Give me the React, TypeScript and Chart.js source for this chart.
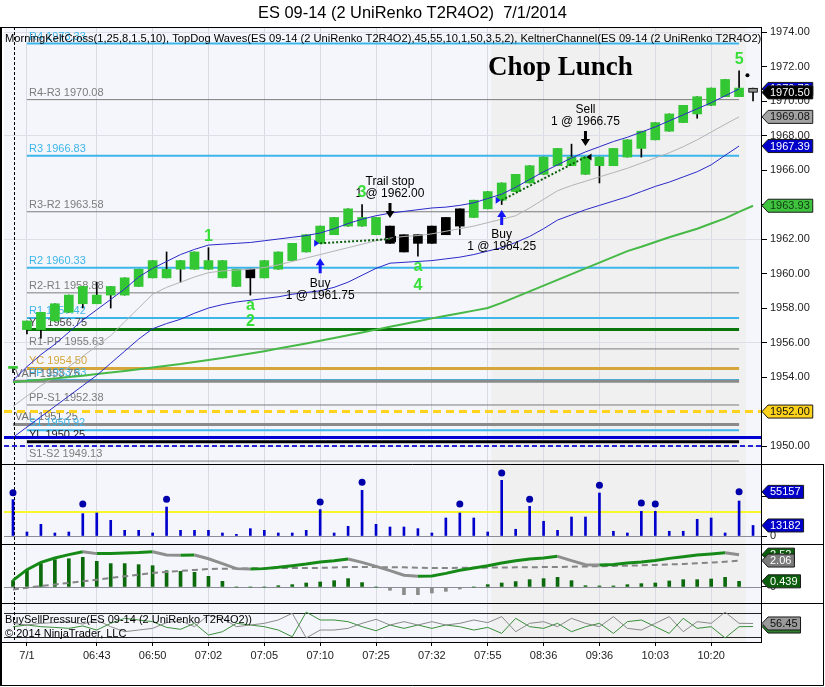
import React, { useEffect, useRef } from 'react';
import { Chart, registerables } from 'chart.js';

Chart.register(...registerables);

const FONT = "'Liberation Sans', Arial, Helvetica, sans-serif";
const SERIF = "'Liberation Serif', 'Times New Roman', serif";

const TITLE = 'ES 09-14 (2 UniRenko T2R4O2)  7/1/2014';
const PRICE_PANEL_LABEL =
  'MorningKeltCross(1,25,8,1.5,10), TopDog Waves(ES 09-14 (2 UniRenko T2R4O2),45,55,10,1,50,3,5,2), KeltnerChannel(ES 09-14 (2 UniRenko T2R4O2),1.5,10)';
const BSP_PANEL_LABEL = 'BuySellPressure(ES 09-14 (2 UniRenko T2R4O2))';
const COPYRIGHT = '\u00A9 2014 NinjaTrader, LLC';
const NOTE_TEXT = 'Chop Lunch';

// ---- axis ticks ----
const xTickBars = [1, 6, 10, 14, 18, 22, 26, 30, 34, 38, 42, 46, 50];
const xTickLabels = ['7/1', '06:43', '06:50', '07:02', '07:05', '07:10', '07:25', '07:32', '07:55', '08:36', '09:36', '10:03', '10:20'];
const priceTicks = [1950, 1952, 1954, 1956, 1958, 1960, 1962, 1964, 1966, 1968, 1970, 1972, 1974];
const volumeTicks = [0, 50000];
const oscTicks = [0, 2.5];

// ---- bricks (UniRenko) ----
const barOpen = [1954.5, 1956.75, 1956.75, 1957.25, 1957.75, 1958.25, 1958.75, 1958.75, 1958.75, 1959.25,
  1959.75, 1960.25, 1960.25, 1960.25, 1960.75, 1960.75, 1960.25, 1959.75, 1959.75, 1960.25,
  1960.75, 1961.25, 1961.75, 1962.25, 1962.75, 1963.25, 1963.25, 1962.75, 1962.25, 1961.75,
  1961.75, 1962.25, 1962.75, 1963.25, 1963.75, 1964.25, 1964.75, 1965.25, 1965.75, 1966.25,
  1966.75, 1966.75, 1966.25, 1966.25, 1966.75, 1967.25, 1967.75, 1968.25, 1968.75, 1969.25,
  1969.75, 1970.25, 1970.75, 1970.75];
const barHigh = [1954.5, 1957.25, 1957.75, 1958.25, 1958.75, 1959.25, 1959.5, 1959.25, 1959.75, 1960.25,
  1960.75, 1961.25, 1960.75, 1961.25, 1961.5, 1960.75, 1960.25, 1960.25, 1960.75, 1961.25,
  1961.75, 1962.25, 1962.75, 1963.25, 1963.75, 1964.0, 1963.25, 1962.75, 1962.25, 1962.25,
  1962.75, 1963.25, 1963.75, 1964.25, 1964.75, 1965.25, 1965.75, 1966.25, 1966.75, 1967.25,
  1967.5, 1966.75, 1966.75, 1967.25, 1967.75, 1968.25, 1968.75, 1969.25, 1969.75, 1970.25,
  1970.75, 1971.25, 1971.75, 1970.75];
const barLow = [1954.25, 1956.5, 1956.25, 1957.25, 1957.75, 1958.0, 1958.25, 1958.0, 1958.75, 1959.25,
  1959.75, 1959.75, 1959.5, 1960.25, 1960.25, 1959.75, 1959.25, 1958.75, 1959.75, 1960.25,
  1960.75, 1961.25, 1961.75, 1962.25, 1962.75, 1962.75, 1962.25, 1961.75, 1961.25, 1961.0,
  1961.75, 1962.25, 1962.25, 1963.25, 1963.75, 1964.0, 1964.75, 1965.25, 1965.75, 1966.25,
  1966.25, 1965.75, 1965.25, 1966.25, 1966.75, 1966.75, 1967.75, 1968.25, 1968.75, 1969.0,
  1969.75, 1970.25, 1970.25, 1970.0];
const barClose = [1954.5, 1957.25, 1957.75, 1958.25, 1958.75, 1959.25, 1958.25, 1959.25, 1959.75, 1960.25,
  1960.75, 1959.75, 1960.75, 1961.25, 1960.25, 1959.75, 1959.25, 1960.25, 1960.75, 1961.25,
  1961.75, 1962.25, 1962.75, 1963.25, 1963.75, 1962.75, 1962.25, 1961.75, 1961.25, 1962.25,
  1962.75, 1963.25, 1963.75, 1964.25, 1964.75, 1965.25, 1965.75, 1966.25, 1966.75, 1967.25,
  1966.25, 1965.75, 1966.75, 1967.25, 1967.75, 1968.25, 1968.75, 1969.25, 1969.75, 1970.25,
  1970.75, 1971.25, 1970.25, 1970.5];
// G = trend-painted green, B = black (counter-trend), L = live brick
const barTrend = ['G', 'G', 'G', 'G', 'G', 'G', 'G', 'G', 'G', 'G',
  'G', 'G', 'G', 'G', 'G', 'G', 'G', 'B', 'G', 'G',
  'G', 'G', 'G', 'G', 'G', 'G', 'G', 'B', 'B', 'B',
  'B', 'B', 'B', 'G', 'G', 'G', 'G', 'G', 'G', 'G',
  'G', 'G', 'G', 'G', 'G', 'G', 'G', 'G', 'G', 'G',
  'G', 'G', 'G', 'L'];

// ---- price-panel indicators ----
const kcUpper = [1953.8, 1954.6, 1955.3, 1955.9, 1956.6, 1957.3, 1957.9, 1958.5, 1959.1, 1959.8,
  1960.3, 1960.7, 1961.1, 1961.4, 1961.65, 1961.7, 1961.75, 1961.8, 1961.9, 1962.0,
  1962.1, 1962.2, 1962.35, 1962.6, 1962.9, 1963.15, 1963.35, 1963.5, 1963.6, 1963.7,
  1963.8, 1963.85, 1963.95, 1964.1, 1964.35, 1964.6, 1965.0, 1965.45, 1965.9, 1966.3,
  1966.7, 1967.05, 1967.35, 1967.65, 1967.9, 1968.2, 1968.5, 1968.85, 1969.2, 1969.55,
  1969.9, 1970.3, 1970.7, null];
const kcMid = [1952.3, 1952.9, 1953.5, 1954.0, 1954.6, 1955.2, 1955.8, 1956.4, 1957.2, 1958.0,
  1958.8, 1959.2, 1959.5, 1959.8, 1960.05, 1960.15, 1960.2, 1960.25, 1960.35, 1960.5,
  1960.7, 1960.9, 1961.1, 1961.3, 1961.5, 1961.7, 1961.9, 1962.05, 1962.15, 1962.2,
  1962.3, 1962.45, 1962.6, 1962.75, 1962.95, 1963.15, 1963.35, 1963.8, 1964.3, 1964.8,
  1965.1, 1965.35, 1965.6, 1965.85, 1966.1, 1966.4, 1966.7, 1967.0, 1967.35, 1967.75,
  1968.2, 1968.65, 1969.08, null];
const kcLower = [1950.5, 1951.1, 1951.7, 1952.3, 1952.9, 1953.5, 1954.1, 1954.8, 1955.5, 1956.2,
  1956.8, 1957.1, 1957.35, 1957.7, 1958.0, 1958.2, 1958.35, 1958.45, 1958.55, 1958.65,
  1958.8, 1958.9, 1959.0, 1959.2, 1959.5, 1959.9, 1960.3, 1960.6, 1960.65, 1960.7,
  1960.75, 1960.85, 1960.95, 1961.1, 1961.3, 1961.5, 1961.8, 1962.15, 1962.6, 1963.1,
  1963.4, 1963.7, 1963.95, 1964.2, 1964.45, 1964.75, 1965.05, 1965.3, 1965.6, 1965.9,
  1966.3, 1966.85, 1967.39, null];
const trendMA = [1953.7, 1953.77, 1953.85, 1953.92, 1954.0, 1954.08, 1954.17, 1954.26, 1954.35, 1954.45,
  1954.55, 1954.65, 1954.75, 1954.87, 1954.99, 1955.1, 1955.23, 1955.36, 1955.5, 1955.65,
  1955.8, 1955.95, 1956.1, 1956.26, 1956.42, 1956.58, 1956.75, 1956.91, 1957.07, 1957.23,
  1957.4, 1957.55, 1957.7, 1957.85, 1958.0, 1958.3, 1958.63, 1958.97, 1959.3, 1959.63,
  1959.97, 1960.3, 1960.63, 1960.97, 1961.3, 1961.55, 1961.83, 1962.1, 1962.35, 1962.6,
  1962.9, 1963.2, 1963.57, 1963.93];

// ---- pivot / value-area levels ----
const levelNames = ['R4', 'R4-R3', 'R3', 'R3-R2', 'R2', 'R2-R1', 'R1', 'YH', 'R1-PP', 'YC', 'PP', 'VAH', 'PP-S1', 'VAL', 'S1', 'YL', 'S1-S2'];
const levelValues = [1973.33, 1970.08, 1966.83, 1963.58, 1960.33, 1958.88, 1957.42, 1956.75, 1955.63, 1954.5, 1953.83, 1953.75, 1952.38, 1951.25, 1950.92, 1950.25, 1949.13];
const levelKinds = ['pivot', 'mid', 'pivot', 'mid', 'pivot', 'mid', 'pivot', 'yh', 'mid', 'yc', 'pivot', 'va', 'mid', 'va', 'pivot', 'yl', 'mid'];
const extraLineValues = [1952.0, 1950.5, 1950.0];
const extraLineKinds = ['target', 'low', 'stop'];

// ---- trades ----
const tradeBars = [22, 27, 35, 41];
const tradeActions = ['Buy', 'Trail stop', 'Buy', 'Sell'];
const tradeQty = [1, 1, 1, 1];
const tradePrices = [1961.75, 1962.0, 1964.25, 1966.75];
const tradeArrowTips = [1960.88, 1963.22, 1963.68, 1967.39];
const tradeLinks = [[0, 1], [2, 3]];

// ---- wave labels ----
const waveBars = [14, 17, 17, 25, 29, 29, 52];
const waveTexts = ['1', 'a', '2', '3', 'a', '4', '5'];
const wavePrices = [1962.17, 1958.17, 1957.19, 1964.67, 1960.38, 1959.33, 1972.38];

const noteBar = 39.2;
const notePrice = 1971.9;
const markDotBar = [52.6];
const markDotPrice = [1971.5];
const sessionBreakBar = 0.05;
const shadeBars = [34.25, 52.5];

// ---- volume panel ----
const volume = [45500, 5000, 14600, 3750, 5000, 27900, 28750, 19600, 7100, 7100,
  3750, 36250, 7100, 7100, 7100, 3750, 2100, 9200, 7100, 3750,
  3750, 7100, 33000, 3750, 12100, 57100, 14600, 11250, 11250, 9200,
  3750, 22500, 28750, 22500, 5000, 69600, 8400, 37100, 18400, 7100,
  23750, 23750, 53750, 5900, 3750, 30800, 30800, 5900, 5900, 20900,
  22500, 3750, 43750, 13182];
const volumeSpikes = [54000, null, null, null, null, 40000, null, null, null, null,
  null, 45900, null, null, null, null, null, null, null, null,
  null, null, 42500, null, null, 67100, null, null, null, null,
  null, null, 40000, null, null, 78750, null, 45900, null, null,
  null, null, 63400, null, null, 41250, 40000, null, null, null,
  null, null, 55157, null];
const volumeAlertLevel = 30000;

// ---- oscillator panel ----
const oscLine = [0.51, 1.35, 1.92, 2.26, 2.52, 2.75, 2.6, 2.6, 2.65, 2.68,
  2.75, 2.49, 2.47, 2.49, 2.2, 1.82, 1.43, 1.4, 1.43, 1.53,
  1.66, 1.79, 1.95, 2.05, 2.18, 1.92, 1.61, 1.27, 0.92, 0.84,
  0.86, 1.06, 1.3, 1.48, 1.66, 1.87, 2.05, 2.18, 2.26, 2.39,
  2.05, 1.74, 1.71, 1.76, 1.87, 1.95, 2.07, 2.23, 2.36, 2.49,
  2.57, 2.67, 2.52, null];
const oscSignal = [-0.2, -0.06, 0.07, 0.2, 0.32, 0.44, 0.57, 0.7, 0.83, 0.96,
  1.09, 1.17, 1.25, 1.33, 1.4, 1.42, 1.44, 1.45, 1.46, 1.47,
  1.48, 1.48, 1.49, 1.52, 1.55, 1.56, 1.55, 1.54, 1.53, 1.5,
  1.48, 1.48, 1.49, 1.5, 1.51, 1.52, 1.53, 1.54, 1.55, 1.56,
  1.58, 1.6, 1.62, 1.64, 1.66, 1.69, 1.72, 1.76, 1.79, 1.84,
  1.9, 1.97, 2.06, null];
const oscHist = [0.5, 1.35, 1.82, 2.13, 2.2, 2.31, 2.0, 1.82, 1.82, 1.74,
  1.66, 1.27, 1.22, 1.14, 0.83, 0.44, 0, 0, 0, 0.1,
  0.18, 0.31, 0.39, 0.49, 0.65, 0.34, 0, -0.26, -0.6, -0.6,
  -0.47, -0.34, -0.16, 0, 0.18, 0.31, 0.42, 0.57, 0.65, 0.75,
  0.49, 0.1, 0.08, 0.08, 0.18, 0.26, 0.31, 0.47, 0.57, 0.57,
  0.62, 0.75, 0.439, null];

// ---- buy/sell pressure panel ----
const bspSell = [57, 50, 57, 60, 64, 54, 71, 43, 22, 29,
  36, 60, 68, 43, 92, 78, 43, 50, 57, 71,
  99, -4, 29, 29, 36, 57, 74, 50, 64, 50,
  64, 50, 57, 71, 60, 85, 22, 57, 64, 43,
  78, 57, 43, 85, 36, 29, 57, 85, 22, 64,
  57, 104, 57, 56.45];
const bspBuy = [43, 50, 43, 40, 36, 46, 29, 57, 78, 71,
  64, 40, 32, 57, 8, 22, 57, 50, 43, 29,
  1, 104, 71, 71, 64, 43, 26, 50, 36, 50,
  36, 50, 43, 29, 40, 15, 78, 43, 36, 57,
  22, 43, 57, 15, 64, 71, 43, 15, 78, 36,
  43, -4, 43, 43.55];
const bspBounds = [0, 100];

// ---- styles ----
const PANEL_BG = '#f5f6fb';
const SHADE_BG = '#f0f0f1';
const BRICK_COLORS: Record<string, string> = { G: '#34c734', B: '#000000', L: '#8f8f8f' };
const LEVEL_STYLE: Record<string, any> = {
  pivot: { color: '#3cb6ea', width: 2, text: '#3cb6ea', from: 1 },
  mid: { color: '#7c7c7c', width: 1, text: '#7c7c7c', from: 1 },
  yh: { color: '#0a760a', width: 3, text: '#4a4a4a', from: 1 },
  yc: { color: '#d6a63a', width: 3, text: '#d6a63a', from: 1 },
  va: { color: '#8a8a8a', width: 3, text: '#6e6e6e', from: 0 },
  yl: { color: '#000000', width: 3, text: '#222222', from: 1 },
};
const LEVEL_END_BAR = 52;
const EXTRA_STYLE: Record<string, any> = {
  target: { color: '#ffd21c', width: 3, dash: [8, 5] },
  low: { color: '#0000d2', width: 3, dash: [] },
  stop: { color: '#2424d4', width: 2, dash: [5, 3] },
};
const OSC_UP = '#168a16';
const OSC_DOWN = '#8e8e8e';
const WAVE_COLOR = '#38df38';

const toXY = (arr: (number | null)[]) => arr.map((v, i) => ({ x: i, y: v }));

function drawFlag(ctx: CanvasRenderingContext2D, x0: number, y: number, text: string, bg: string, fg: string) {
  ctx.font = `11px ${FONT}`;
  const tw = ctx.measureText(text).width;
  const h = 13;
  const a = 6;
  const w = tw + 5;
  ctx.beginPath();
  ctx.moveTo(x0, y);
  ctx.lineTo(x0 + a, y - h / 2);
  ctx.lineTo(x0 + a + w, y - h / 2);
  ctx.lineTo(x0 + a + w, y + h / 2);
  ctx.lineTo(x0 + a, y + h / 2);
  ctx.closePath();
  ctx.fillStyle = bg;
  ctx.fill();
  ctx.strokeStyle = '#1a1a1a';
  ctx.lineWidth = 1;
  ctx.setLineDash([]);
  ctx.stroke();
  ctx.fillStyle = fg;
  ctx.textAlign = 'left';
  ctx.textBaseline = 'middle';
  ctx.fillText(text, x0 + a + 2, y + 0.5);
}

function drawArrow(ctx: CanvasRenderingContext2D, x: number, tipY: number, up: boolean, color: string) {
  const len = 15, hh = 7, hw = 4.5, sw = 1.5;
  const s = up ? 1 : -1;
  ctx.beginPath();
  ctx.moveTo(x, tipY);
  ctx.lineTo(x + hw, tipY + s * hh);
  ctx.lineTo(x + sw, tipY + s * hh);
  ctx.lineTo(x + sw, tipY + s * len);
  ctx.lineTo(x - sw, tipY + s * len);
  ctx.lineTo(x - sw, tipY + s * hh);
  ctx.lineTo(x - hw, tipY + s * hh);
  ctx.closePath();
  ctx.fillStyle = color;
  ctx.fill();
}

const decorPlugin = {
  id: 'ntDecor',
  beforeDraw(chart: any) {
    const { ctx, chartArea: ca } = chart;
    const xs = chart.scales.x;
    ctx.save();
    ctx.fillStyle = '#ffffff';
    ctx.fillRect(0, 0, chart.width, chart.height);
    ctx.fillStyle = PANEL_BG;
    ctx.fillRect(ca.left, ca.top, ca.right - ca.left, ca.bottom - ca.top);
    const s0 = xs.getPixelForValue(shadeBars[0]);
    const s1 = xs.getPixelForValue(shadeBars[1]);
    ctx.fillStyle = SHADE_BG;
    ctx.fillRect(s0, ca.top, s1 - s0, ca.bottom - ca.top);
    ctx.fillStyle = '#000';
    ctx.font = `16.4px ${FONT}`;
    ctx.textAlign = 'center';
    ctx.textBaseline = 'middle';
    ctx.fillText(TITLE, chart.width / 2, 13);
    ctx.restore();
  },
  beforeDatasetsDraw(chart: any) {
    const { ctx, chartArea: ca } = chart;
    const xs = chart.scales.x, yP = chart.scales.yP, yV = chart.scales.yV, yO = chart.scales.yO, yB = chart.scales.yB;
    ctx.save();
    // pivot levels
    levelValues.forEach((v, i) => {
      const st = LEVEL_STYLE[levelKinds[i]];
      const xa = xs.getPixelForValue(st.from);
      const xb = xs.getPixelForValue(LEVEL_END_BAR);
      const y = yP.getPixelForValue(v);
      ctx.strokeStyle = st.color;
      ctx.lineWidth = st.width;
      ctx.setLineDash([]);
      ctx.beginPath();
      ctx.moveTo(xa, y);
      ctx.lineTo(xb, y);
      ctx.stroke();
      ctx.fillStyle = st.text;
      ctx.font = `11px ${FONT}`;
      ctx.textAlign = 'left';
      ctx.textBaseline = 'alphabetic';
      ctx.fillText(`${levelNames[i]} ${v.toFixed(2)}`, xa + 2, y - 4);
    });
    // full-width lines
    extraLineValues.forEach((v, i) => {
      const st = EXTRA_STYLE[extraLineKinds[i]];
      const y = yP.getPixelForValue(v);
      ctx.strokeStyle = st.color;
      ctx.lineWidth = st.width;
      ctx.setLineDash(st.dash);
      ctx.beginPath();
      ctx.moveTo(ca.left, y);
      ctx.lineTo(ca.right, y);
      ctx.stroke();
    });
    ctx.setLineDash([]);
    // volume baseline + alert line
    let y = Math.round(yV.getPixelForValue(0)) + 0.5;
    ctx.strokeStyle = '#8c8c9a';
    ctx.lineWidth = 1;
    ctx.beginPath(); ctx.moveTo(ca.left, y); ctx.lineTo(ca.right, y); ctx.stroke();
    y = yV.getPixelForValue(volumeAlertLevel);
    ctx.strokeStyle = '#f7f72a';
    ctx.lineWidth = 2;
    ctx.beginPath(); ctx.moveTo(ca.left, y); ctx.lineTo(ca.right, y); ctx.stroke();
    // oscillator zero
    y = Math.round(yO.getPixelForValue(0)) + 0.5;
    ctx.strokeStyle = '#8c8c9a';
    ctx.lineWidth = 1;
    ctx.beginPath(); ctx.moveTo(ca.left, y); ctx.lineTo(ca.right, y); ctx.stroke();
    // bsp bounds
    ctx.strokeStyle = '#222';
    bspBounds.forEach((b) => {
      const yy = Math.round(yB.getPixelForValue(b)) + 0.5;
      ctx.beginPath(); ctx.moveTo(ca.left, yy); ctx.lineTo(ca.right, yy); ctx.stroke();
    });
    // session break
    const sx = Math.round(xs.getPixelForValue(sessionBreakBar)) + 0.5;
    ctx.strokeStyle = '#000';
    ctx.setLineDash([3, 2]);
    ctx.beginPath(); ctx.moveTo(sx, ca.top); ctx.lineTo(sx, ca.bottom); ctx.stroke();
    ctx.setLineDash([]);
    ctx.restore();
  },
  afterDatasetsDraw(chart: any) {
    const { ctx, chartArea: ca } = chart;
    const xs = chart.scales.x, yP = chart.scales.yP, yB = chart.scales.yB;
    ctx.save();
    // trade links
    tradeLinks.forEach(([a, b]) => {
      ctx.strokeStyle = '#0b5f0b';
      ctx.lineWidth = 2;
      ctx.setLineDash([2, 2]);
      ctx.beginPath();
      ctx.moveTo(xs.getPixelForValue(tradeBars[a]), yP.getPixelForValue(tradePrices[a]));
      ctx.lineTo(xs.getPixelForValue(tradeBars[b]), yP.getPixelForValue(tradePrices[b]));
      ctx.stroke();
    });
    ctx.setLineDash([]);
    // trade arrows, markers, text
    tradeBars.forEach((bar, i) => {
      const x = xs.getPixelForValue(bar);
      const tip = yP.getPixelForValue(tradeArrowTips[i]);
      const py = yP.getPixelForValue(tradePrices[i]);
      const isBuy = tradeActions[i] === 'Buy';
      const color = isBuy ? '#1414f5' : '#000000';
      drawArrow(ctx, x, tip, isBuy, color);
      ctx.beginPath();
      if (isBuy) {
        ctx.moveTo(x - 6, py - 3.5); ctx.lineTo(x - 6, py + 3.5); ctx.lineTo(x - 1, py);
      } else {
        ctx.moveTo(x + 6, py - 3.5); ctx.lineTo(x + 6, py + 3.5); ctx.lineTo(x + 1, py);
      }
      ctx.closePath();
      ctx.fillStyle = color;
      ctx.fill();
      ctx.fillStyle = '#000';
      ctx.font = `12px ${FONT}`;
      ctx.textAlign = 'center';
      ctx.textBaseline = 'middle';
      const qtyText = `${tradeQty[i]} @ ${tradePrices[i].toFixed(2)}`;
      if (isBuy) {
        ctx.fillText(tradeActions[i], x, tip + 25);
        ctx.fillText(qtyText, x, tip + 37);
      } else {
        ctx.fillText(tradeActions[i], x, tip - 36);
        ctx.fillText(qtyText, x, tip - 24);
      }
    });
    // wave labels
    ctx.font = `bold 16px ${FONT}`;
    ctx.textAlign = 'center';
    ctx.textBaseline = 'middle';
    ctx.fillStyle = WAVE_COLOR;
    waveBars.forEach((bar, i) => {
      ctx.fillText(waveTexts[i], xs.getPixelForValue(bar), yP.getPixelForValue(wavePrices[i]));
    });
    // note
    ctx.fillStyle = '#000';
    ctx.font = `bold 27px ${SERIF}`;
    ctx.fillText(NOTE_TEXT, xs.getPixelForValue(noteBar), yP.getPixelForValue(notePrice));
    // indicator labels
    ctx.beginPath();
    ctx.rect(ca.left, ca.top, ca.right - ca.left, ca.bottom - ca.top);
    ctx.clip();
    ctx.font = `11.15px ${FONT}`;
    ctx.textAlign = 'left';
    ctx.fillStyle = '#000';
    ctx.fillText(PRICE_PANEL_LABEL, ca.left + 1, yP.top + 12);
    ctx.font = `11px ${FONT}`;
    ctx.fillText(BSP_PANEL_LABEL, ca.left + 1, yB.top + 17);
    ctx.fillText(COPYRIGHT, ca.left + 1, yB.top + 31);
    ctx.restore();
  },
  afterDraw(chart: any) {
    const { ctx, chartArea: ca } = chart;
    const yP = chart.scales.yP, yV = chart.scales.yV, yO = chart.scales.yO, yB = chart.scales.yB;
    const W = chart.width, H = chart.height;
    ctx.save();
    ctx.strokeStyle = '#000';
    ctx.lineWidth = 1;
    ctx.setLineDash([]);
    const line = (x1: number, y1: number, x2: number, y2: number) => {
      ctx.beginPath(); ctx.moveTo(x1, y1); ctx.lineTo(x2, y2); ctx.stroke();
    };
    const r = Math.round(ca.right) + 0.5;
    line(1, Math.round(ca.top) + 0.5, r, Math.round(ca.top) + 0.5);
    line(r, ca.top, r, ca.bottom);
    [yV.top, yO.top, yB.top].forEach((t: number) => {
      const yy = Math.round(t) + 0.5;
      line(1, yy, W - 1.5, yy);
    });
    line(W - 1.5, yV.top, W - 1.5, H - 1.5);
    line(1, H - 1.5, W - 1.5, H - 1.5);
    line(1, Math.round(ca.bottom) + 0.5, r, Math.round(ca.bottom) + 0.5);
    ctx.lineWidth = 2;
    line(1, ca.top, 1, H - 1);

    const x0 = Math.round(ca.right) + 1;
    const lastIdx = (arr: (number | null)[]) => {
      for (let i = arr.length - 1; i >= 0; i--) if (arr[i] != null) return arr[i] as number;
      return 0;
    };
    const up = lastIdx(kcUpper), mid = lastIdx(kcMid), lo = lastIdx(kcLower), ma = lastIdx(trendMA);
    const close = barClose[barClose.length - 1];
    drawFlag(ctx, x0, yP.getPixelForValue(up), up.toFixed(2), '#0000c8', '#ffffff');
    drawFlag(ctx, x0, yP.getPixelForValue(close), close.toFixed(2), '#000000', '#ffffff');
    drawFlag(ctx, x0, yP.getPixelForValue(mid), mid.toFixed(2), '#a2a2a2', '#111111');
    drawFlag(ctx, x0, yP.getPixelForValue(lo), lo.toFixed(2), '#0000c8', '#ffffff');
    drawFlag(ctx, x0, yP.getPixelForValue(ma), ma.toFixed(2), '#3fc33f', '#123a12');
    drawFlag(ctx, x0, yP.getPixelForValue(extraLineValues[0]), extraLineValues[0].toFixed(2), '#ffd21c', '#111111');
    const spike = lastIdx(volumeSpikes), vol = lastIdx(volume);
    drawFlag(ctx, x0, yV.getPixelForValue(spike), String(spike), '#0000c8', '#ffffff');
    drawFlag(ctx, x0, yV.getPixelForValue(vol), String(vol), '#0000c8', '#ffffff');
    const o = lastIdx(oscLine), sg = lastIdx(oscSignal), hs = lastIdx(oscHist);
    drawFlag(ctx, x0, yO.getPixelForValue(o), o.toPrecision(3), '#0c5e0c', '#ffffff');
    drawFlag(ctx, x0, yO.getPixelForValue(sg), sg.toPrecision(3), '#7a7a7a', '#ffffff');
    drawFlag(ctx, x0, yO.getPixelForValue(hs), hs.toPrecision(3), '#0c5e0c', '#ffffff');
    const bb = lastIdx(bspBuy), bs = lastIdx(bspSell);
    drawFlag(ctx, x0, yB.getPixelForValue(bb), bb.toFixed(2), '#2f7d2f', '#ffffff');
    drawFlag(ctx, x0, yB.getPixelForValue(bs), bs.toFixed(2), '#9a9a9a', '#111111');
    ctx.restore();
  },
};

function buildConfig(): any {
  const idx = barOpen.map((_, i) => i);
  const tickFont = { size: 11, family: FONT };
  const yCommon = (weight: number) => ({
    type: 'linear',
    position: 'right',
    stack: 'panels',
    stackWeight: weight,
    afterFit: (s: any) => { s.width = 62; },
    border: { display: true, color: '#000' },
  });
  return {
    type: 'bar',
    data: {
      datasets: [
        {
          type: 'line', label: 'KC upper', yAxisID: 'yP', xAxisID: 'x', data: toXY(kcUpper),
          borderColor: '#2a2ac8', borderWidth: 1, pointRadius: 0, order: 2,
        },
        {
          type: 'line', label: 'KC lower', yAxisID: 'yP', xAxisID: 'x', data: toXY(kcLower),
          borderColor: '#2a2ac8', borderWidth: 1, pointRadius: 0, order: 2,
        },
        {
          type: 'line', label: 'KC mid', yAxisID: 'yP', xAxisID: 'x', data: toXY(kcMid),
          borderColor: '#b4b4b4', borderWidth: 1, pointRadius: 0, order: 3,
        },
        {
          type: 'line', label: 'Trend MA', yAxisID: 'yP', xAxisID: 'x', data: toXY(trendMA),
          borderColor: '#46b946', borderWidth: 2, pointRadius: 0, order: 2,
        },
        {
          type: 'line', label: 'mark', yAxisID: 'yP', xAxisID: 'x',
          data: markDotBar.map((b, i) => ({ x: b, y: markDotPrice[i] })),
          showLine: false, pointRadius: 2, pointBackgroundColor: '#000', pointBorderWidth: 0, order: 1,
        },
        {
          type: 'bar', label: 'wick', yAxisID: 'yP', xAxisID: 'x',
          data: idx.map((i) => ({ x: i, y: [barLow[i], barHigh[i]] })),
          backgroundColor: '#000', barThickness: 1, grouped: false, order: 11,
        },
        {
          type: 'bar', label: 'brick', yAxisID: 'yP', xAxisID: 'x',
          data: idx.map((i) => ({ x: i, y: [barOpen[i], barClose[i]] })),
          backgroundColor: (c: any) => BRICK_COLORS[barTrend[c.dataIndex]] || '#34c734',
          borderColor: '#000',
          borderWidth: (c: any) => (barTrend[c.dataIndex] === 'L' ? 1 : 0),
          borderSkipped: false,
          barThickness: 9, minBarLength: 2, grouped: false, order: 10,
        },
        {
          type: 'bar', label: 'volume', yAxisID: 'yV', xAxisID: 'x', data: toXY(volume),
          backgroundColor: '#0000cc', barThickness: 2, grouped: false, order: 5,
        },
        {
          type: 'line', label: 'volume spikes', yAxisID: 'yV', xAxisID: 'x', data: toXY(volumeSpikes),
          showLine: false, pointRadius: 3.5, pointBackgroundColor: '#0000aa', pointBorderWidth: 0, order: 4,
        },
        {
          type: 'bar', label: 'osc hist', yAxisID: 'yO', xAxisID: 'x', data: toXY(oscHist),
          backgroundColor: (c: any) => ((c.raw && c.raw.y < 0) ? '#8c8c8c' : '#0c6a0c'),
          barThickness: 3, grouped: false, order: 6,
        },
        {
          type: 'line', label: 'osc signal', yAxisID: 'yO', xAxisID: 'x', data: toXY(oscSignal),
          borderColor: '#858585', borderWidth: 2, borderDash: [6, 4], pointRadius: 0, order: 3,
        },
        {
          type: 'line', label: 'osc', yAxisID: 'yO', xAxisID: 'x', data: toXY(oscLine),
          borderColor: OSC_UP, borderWidth: 3, pointRadius: 0, order: 2,
          segment: { borderColor: (c: any) => (c.p1.parsed.y < c.p0.parsed.y ? OSC_DOWN : OSC_UP) },
        },
        {
          type: 'line', label: 'sell pressure', yAxisID: 'yB', xAxisID: 'x', data: toXY(bspSell),
          borderColor: '#8a8a8a', borderWidth: 1, pointRadius: 0, order: 2,
        },
        {
          type: 'line', label: 'buy pressure', yAxisID: 'yB', xAxisID: 'x', data: toXY(bspBuy),
          borderColor: '#3b8e3b', borderWidth: 1, pointRadius: 0, order: 2,
        },
      ],
    },
    options: {
      responsive: false,
      animation: false,
      events: [],
      layout: { padding: { top: 27, left: 2, right: 2, bottom: 2 } },
      plugins: { legend: { display: false }, tooltip: { enabled: false }, title: { display: false } },
      scales: {
        x: {
          type: 'linear', position: 'bottom', min: -0.643, max: 53.57, offset: false,
          afterBuildTicks: (s: any) => { s.ticks = xTickBars.map((v) => ({ value: v })); },
          afterFit: (s: any) => { s.height = 43; },
          ticks: {
            autoSkip: false, maxRotation: 0, minRotation: 0, color: '#222', font: tickFont, padding: 3,
            callback: (v: any) => { const k = xTickBars.indexOf(Number(v)); return k >= 0 ? xTickLabels[k] : ''; },
          },
          grid: { offset: false, color: '#d8dbe3', tickColor: '#000', tickLength: 4, drawOnChartArea: true },
          border: { display: true, color: '#000' },
        },
        yP: {
          ...yCommon(437),
          min: 1948.96, max: 1974.29,
          afterBuildTicks: (s: any) => { s.ticks = priceTicks.map((v) => ({ value: v })); },
          ticks: { color: '#222', font: tickFont, padding: 3, callback: (v: any) => Number(v).toFixed(2) },
          grid: {
            color: (c: any) => (c.tick && c.tick.value % 6 === 0 ? '#dcdfe7' : 'rgba(0,0,0,0)'),
            tickColor: '#000', tickLength: 6,
          },
        },
        yV: {
          ...yCommon(80),
          min: -10000, max: 90000,
          afterBuildTicks: (s: any) => { s.ticks = volumeTicks.map((v) => ({ value: v })); },
          ticks: { color: '#222', font: tickFont, padding: 3, callback: (v: any) => String(v) },
          grid: { drawOnChartArea: false, tickColor: '#000', tickLength: 6 },
        },
        yO: {
          ...yCommon(59),
          min: -1.25, max: 3.35,
          afterBuildTicks: (s: any) => { s.ticks = oscTicks.map((v) => ({ value: v })); },
          ticks: { color: '#222', font: tickFont, padding: 3, callback: (v: any) => String(v) },
          grid: { drawOnChartArea: false, tickColor: '#000', tickLength: 6 },
        },
        yB: {
          ...yCommon(39),
          min: -21, max: 142,
          ticks: { display: false },
          grid: { drawOnChartArea: false, drawTicks: false },
        },
      },
    },
    plugins: [decorPlugin],
  };
}

export default function App() {
  const ref = useRef<HTMLCanvasElement>(null);
  useEffect(() => {
    const canvas = ref.current;
    if (!canvas) return;
    Chart.defaults.font.family = FONT;
    const chart = new Chart(canvas, buildConfig());
    return () => chart.destroy();
  }, []);
  return (
    <div style={{ position: 'absolute', left: 0, top: 0, width: 825, height: 687, background: '#fff', overflow: 'hidden' }}>
      <canvas ref={ref} width={825} height={687} style={{ display: 'block', width: 825, height: 687 }} />
    </div>
  );
}
